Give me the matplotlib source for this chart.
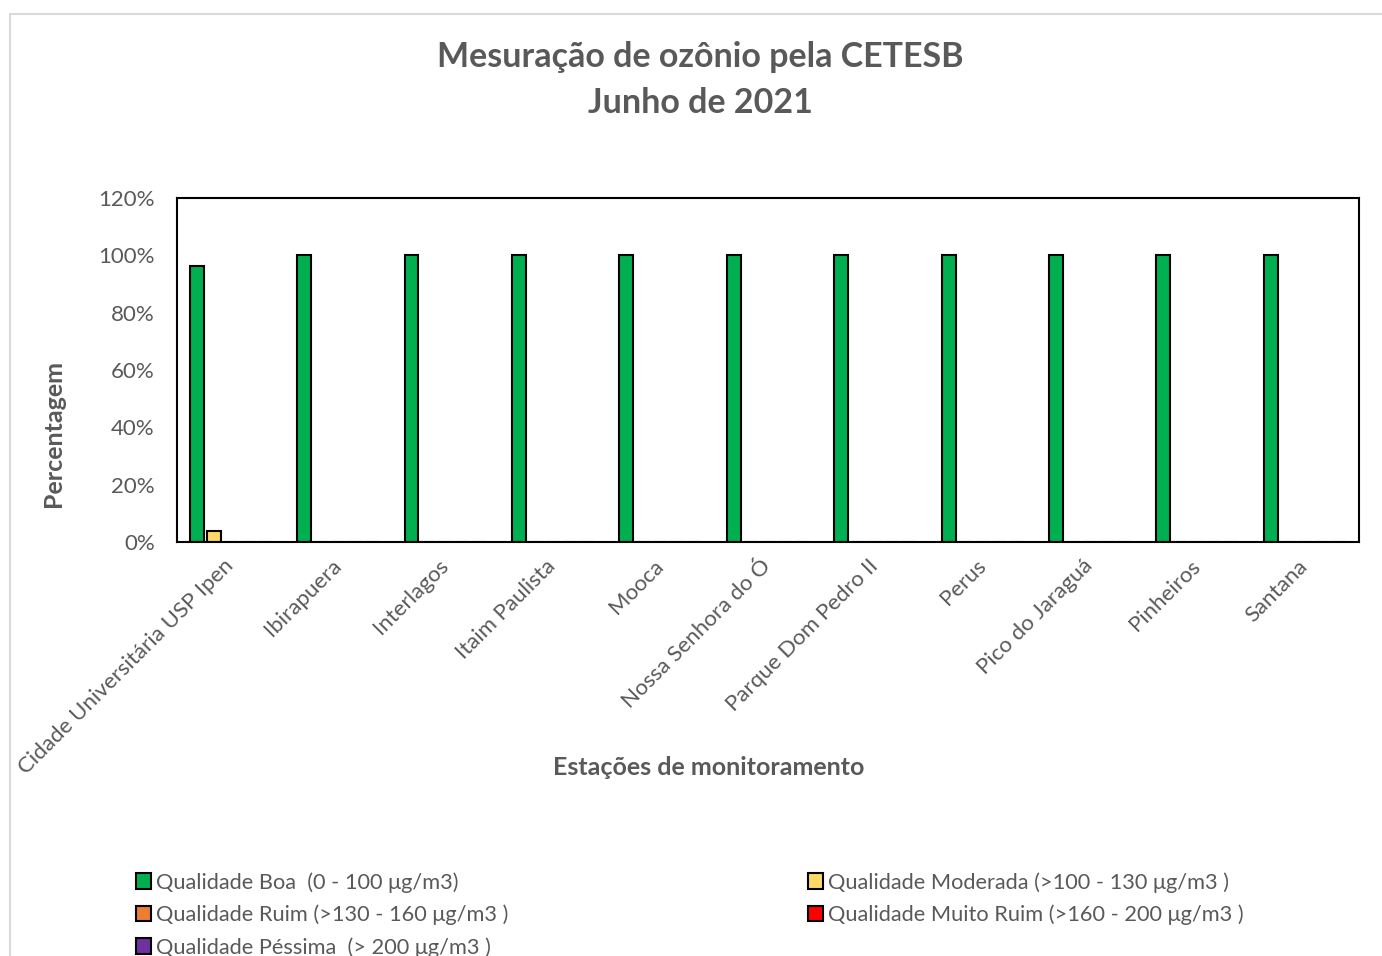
import numpy as np
import matplotlib
matplotlib.use("Agg")
import matplotlib.pyplot as plt
from matplotlib.ticker import PercentFormatter
from matplotlib.patches import Rectangle

estacoes = ["Cidade Universitária USP Ipen", "Ibirapuera", "Interlagos", "Itaim Paulista",
            "Mooca", "Nossa Senhora do Ó", "Parque Dom Pedro II", "Perus",
            "Pico do Jaraguá", "Pinheiros", "Santana"]
boa = [96.3, 100, 100, 100, 100, 100, 100, 100, 100, 100, 100]
moderada = [3.7, 0, 0, 0, 0, 0, 0, 0, 0, 0, 0]
ruim = [0, 0, 0, 0, 0, 0, 0, 0, 0, 0, 0]
muito_ruim = [0, 0, 0, 0, 0, 0, 0, 0, 0, 0, 0]
pessima = [0, 0, 0, 0, 0, 0, 0, 0, 0, 0, 0]

nomes = ["Qualidade Boa  (0 - 100 μg/m3)", "Qualidade Moderada (>100 - 130 μg/m3 )",
         "Qualidade Ruim (>130 - 160 μg/m3 )", "Qualidade Muito Ruim (>160 - 200 μg/m3 )",
         "Qualidade Péssima  (> 200 μg/m3 )"]
cores = ["#00B050", "#FFD966", "#ED7D31", "#FF0000", "#7030A0"]

plt.rcParams['font.family'] = ['Lato', 'DejaVu Sans']
cinza = "#595959"

fig = plt.figure(figsize=(13.82, 9.56), dpi=100)
fig.patches.append(Rectangle((0.0072, -0.05), 1.1, 1.0354, transform=fig.transFigure,
                             fill=False, edgecolor="#d9d9d9", linewidth=1.5))
ax = fig.add_axes([0.128, 0.433, 0.855, 0.360])

x = np.arange(len(estacoes))
slot = 0.158
handles = []
for i, serie in enumerate([boa, moderada, ruim, muito_ruim, pessima]):
    b = ax.bar(x + (i - 2) * slot, serie, width=0.13, color=cores[i],
               edgecolor="black", linewidth=1.5, label=nomes[i])
    handles.append(b)

ax.set_xlim(-0.5, len(estacoes) - 0.5)
ax.set_ylim(0, 120)
ax.set_yticks(np.arange(0, 121, 20))
ax.yaxis.set_major_formatter(PercentFormatter(decimals=0))
ax.set_xticks(x)
ax.set_xticklabels(estacoes, rotation=45, ha="right", va="center", rotation_mode="anchor")
ax.tick_params(length=0, labelsize=16, colors=cinza)
ax.tick_params(axis="y", pad=16)
ax.tick_params(axis="x", pad=15)
for s in ax.spines.values():
    s.set_linewidth(1.5)
    s.set_color("black")

fig.text(0.039, 0.547, "Percentagem", fontsize=18, fontweight="bold", color=cinza,
         ha="center", va="center", rotation=90)
fig.text(0.513, 0.197, "Estações de monitoramento", fontsize=18, fontweight="bold",
         color=cinza, ha="center", va="center")
fig.text(0.507, 0.916, "Mesuração de ozônio pela CETESB\nJunho de 2021", fontsize=24.5,
         fontweight="bold", color=cinza, ha="center", va="center", linespacing=1.55)

ordem = [0, 2, 4, 1, 3]
leg = fig.legend([handles[k] for k in ordem], [nomes[k] for k in ordem], ncol=2,
                 loc="upper left", bbox_to_anchor=(0.092, 0.097), frameon=False,
                 fontsize=15.7, handlelength=0.7, handleheight=0.7, handletextpad=0.22,
                 columnspacing=13.75, labelspacing=0.55, borderaxespad=0)
for t in leg.get_texts():
    t.set_color(cinza)

fig.savefig("out.png", dpi=100)
